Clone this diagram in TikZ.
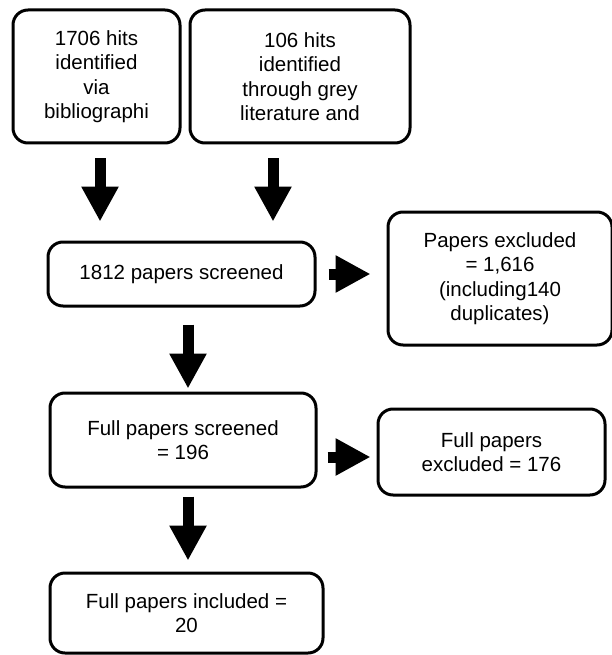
\documentclass[tikz,border=0pt]{standalone}
\usepackage{fontspec}
\setmainfont{Liberation Sans}
\usepackage{tikz}
\usetikzlibrary{arrows.meta}
\usetikzlibrary{shapes}

\tikzset{
	box/.style={draw, line width=3pt, rounded corners=15pt, align=center, inner sep=0pt,
		font=\fontsize{20.5}{24.5}\selectfont},
	blockarrow/.style={line width=11pt, -{Triangle[length=35pt,width=35pt]}},
}

\begin{document}
\begin{tikzpicture}[x=1pt, y=-1pt]
		\useasboundingbox (0,0) rectangle (612,655);

		\node[box, minimum width=167pt, minimum height=133pt] (hitsA)    at (96.5, 76.5) {1706 hits\\identified\\via\\bibliographi};
		\node[box, minimum width=220pt, minimum height=133pt] (hitsB)    at (300, 76.5)  {106 hits\\identified\\through grey\\literature and};
		\node[box, minimum width=267pt, minimum height=64pt]  (screened) at (181.5, 274) {1812 papers screened};
		\node[box, minimum width=224pt, minimum height=133pt] (excluded) at (500, 278.5) {Papers excluded\\= 1,616\\(including140\\duplicates)};
		\node[box, minimum width=266pt, minimum height=94pt]  (full)     at (183, 440)   {Full papers screened\\= 196};
		\node[box, minimum width=227pt, minimum height=86pt]  (fullexcl) at (491.5, 452) {Full papers\\excluded = 176};
		\node[box, minimum width=273pt, minimum height=80pt]  (included) at (186.5, 613) {Full papers included =\\20};

		\draw[blockarrow, shorten <=14pt, shorten >=19pt] ([xshift=3.5pt]hitsA.south) -- ([xshift=3.5pt]hitsA.south |- screened.north);
		\draw[blockarrow, shorten <=14pt, shorten >=19pt] ([xshift=-27pt]hitsB.south) -- ([xshift=-27pt]hitsB.south |- screened.north);
		\draw[blockarrow, shorten <=12pt, shorten >=16pt] (screened.east) -- (screened.east -| excluded.west);
		\draw[blockarrow, shorten <=17pt, shorten >=3pt]  ([xshift=6.5pt]screened.south) -- ([xshift=6.5pt]screened.south |- full.north);
		\draw[blockarrow, shorten <=10pt, shorten >=6pt]  ([yshift=-17pt]full.east) -- ([yshift=-17pt]full.east -| fullexcl.west);
		\draw[blockarrow, shorten <=8pt, shorten >=11pt]  ([xshift=5pt]full.south) -- ([xshift=5pt]full.south |- included.north);
	\end{tikzpicture}
\end{document}
